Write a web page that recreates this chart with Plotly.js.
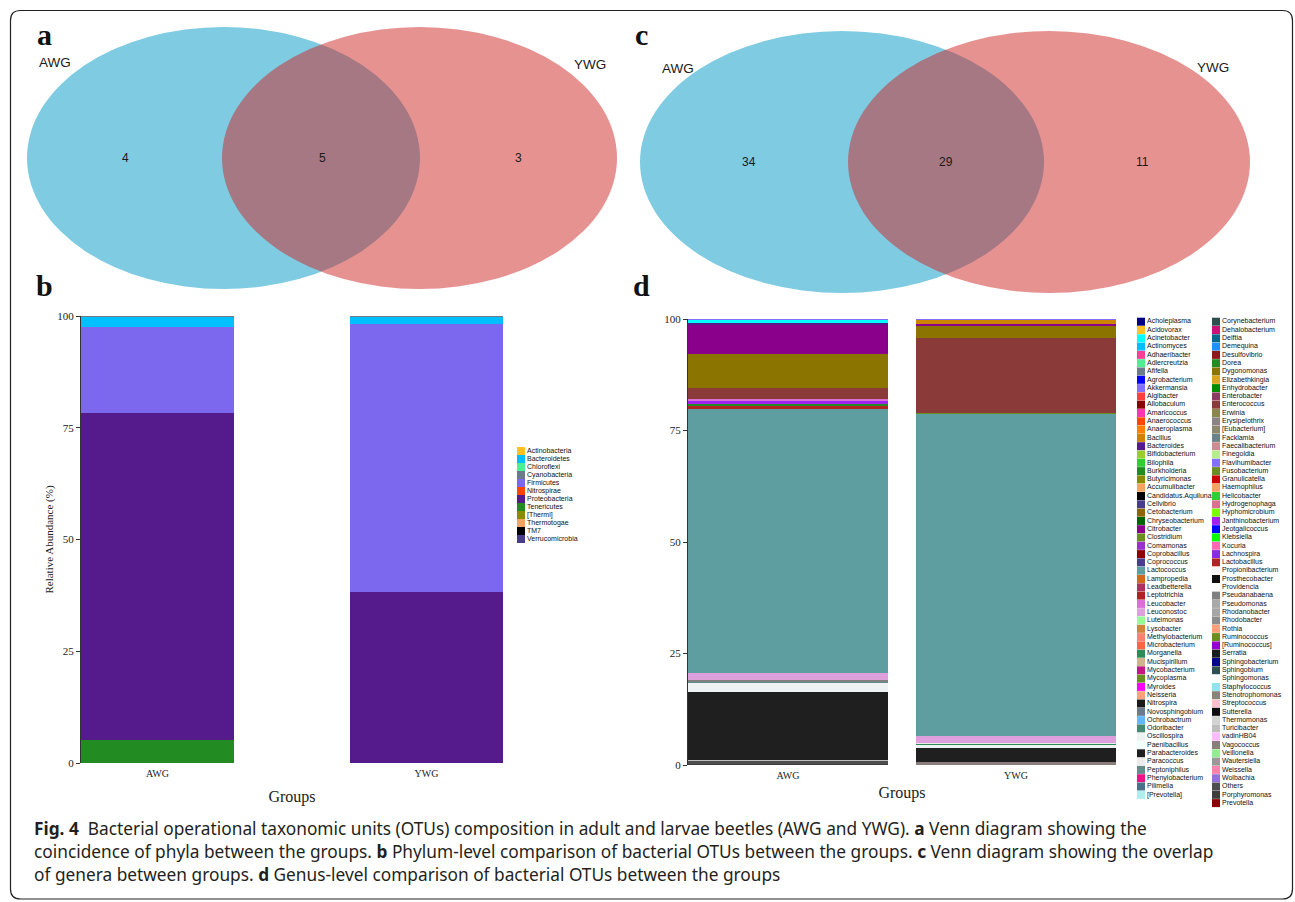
<!DOCTYPE html>
<html><head><meta charset="utf-8">
<script src="https://cdn.plot.ly/plotly-3.0.1.min.js"></script>
<style>html,body{margin:0;padding:0;background:#fff;overflow:hidden}#chart{width:1295px;height:902px}</style>
</head><body><div id="chart"></div>
<script>
// ================= DATA =================
const groups = ['AWG', 'YWG'];

// Venn counts: [AWG only, shared, YWG only]
const vennPhylum = [4, 5, 3];
const vennGenus = [34, 29, 11];

// Panel b: phylum legend (legend order) and colours
const phylumNames = ['Actinobacteria','Bacteroidetes','Chloroflexi','Cyanobacteria','Firmicutes','Nitrospirae','Proteobacteria','Tenericutes','[Thermi]','Thermotogae','TM7','Verrucomicrobia'];
const phylumColors = ['#FFC125','#00BFFF','#4EEE94','#6C7B8B','#7B68EE','#FF4500','#551A8B','#228B22','#8B8B00','#F4A460','#000000','#483D8B'];
// Stack order (top -> bottom) and relative abundance (%)
const phylumStack = ['Cyanobacteria','Bacteroidetes','Firmicutes','Proteobacteria','Tenericutes'];
const phylumAWG = [0.3, 2.2, 19.2, 73.24, 5.06];
const phylumYWG = [0.3, 1.5, 59.9, 38.3, 0];

// Panel d: genus legend (legend order) and colours
const genusNames = ['Acholeplasma','Acidovorax','Acinetobacter','Actinomyces','Adhaeribacter','Adlercreutzia','Afifella','Agrobacterium','Akkermansia','Algibacter','Allobaculum','Amaricoccus','Anaerococcus','Anaeroplasma','Bacillus','Bacteroides','Bifidobacterium','Bilophila','Burkholderia','Butyricimonas','Accumulibacter','Candidatus.Aquiluna','Cellvibrio','Cetobacterium','Chryseobacterium','Citrobacter','Clostridium','Comamonas','Coprobacillus','Coprococcus','Lactococcus','Lampropedia','Leadbetterella','Leptotrichia','Leucobacter','Leuconostoc','Luteimonas','Lysobacter','Methylobacterium','Microbacterium','Morganella','Mucispirillum','Mycobacterium','Mycoplasma','Myroides','Neisseria','Nitrospira','Novosphingobium','Ochrobactrum','Odoribacter','Oscillospira','Paenibacillus','Parabacteroides','Paracoccus','Peptoniphilus','Phenylobacterium','Pilimelia','[Prevotella]',
'Corynebacterium','Dehalobacterium','Delftia','Demequina','Desulfovibrio','Dorea','Dygonomonas','Elizabethkingia','Enhydrobacter','Enterobacter','Enterococcus','Erwinia','Erysipelothrix','[Eubacterium]','Facklamia','Faecalibacterium','Finegoldia','Flavihumibacter','Fusobacterium','Granulicatella','Haemophilus','Helicobacter','Hydrogenophaga','Hyphomicrobium','Janthinobacterium','Jeotgalicoccus','Klebsiella','Kocuria','Lachnospira','Lactobacillus','Propionibacterium','Prosthecobacter','Providencia','Pseudanabaena','Pseudomonas','Rhodanobacter','Rhodobacter','Rothia','Ruminococcus','[Ruminococcus]','Serratia','Sphingobacterium','Sphingobium','Sphingomonas','Staphylococcus','Stenotrophomonas','Streptococcus','Sutterella','Thermomonas','Turicibacter','vadinHB04','Vagococcus','Veillonella','Wautersiella','Weissella','Wolbachia','Others','Porphyromonas','Prevotella'];
const genusColors = ['#000080','#FFC125','#00FFFF','#00BFFF','#FF3E96','#4EEE94','#6C7B8B','#0000FF','#8470FF','#FF4040','#8B0000','#FF34B3','#FF4500','#FF7F00','#CD8500','#551A8B','#9ACD32','#32CD32','#228B22','#8B8B00','#F4A460','#000000','#483D8B','#8B6508','#006400','#8B008B','#6B8E23','#9932CC','#8B0000','#483D8B','#5F9EA0','#D2691E','#B03060','#B22222','#DA70D6','#DDA0DD','#98FB98','#CD853F','#FA8072','#FF6347','#2E8B57','#D2B48C','#C71585','#6B8E23','#FF00FF','#FFA07A','#1A1A1A','#6C7B8B','#63B8FF','#458B74','#EEF2F2','#F0FFFF','#1F1F1F','#EBEBEB','#668B8B','#EE1289','#4A708B','#AEEEEE',
'#2F4F4F','#CD1076','#00688B','#1E90FF','#8B1A1A','#228B22','#8B7500','#DAA520','#008B00','#8B3A62','#8B3A3A','#8B864E','#8B8386','#8B8970','#68838B','#CD8C95','#B4EE8C','#8470FF','#6B8E23','#CD0000','#F4A460','#32CD32','#DB7093','#7CFC00','#A020F0','#0000FF','#00FF00','#FF69B4','#8A2BE2','#B22222','#F5F5F5','#0F0F0F','#FFFFFF','#808080','#A9A9A9','#A6A6A6','#8C8C8C','#FFA07A','#6B8E23','#9400D3','#1A1A1A','#00008B','#2F4F4F','#FFFFFF','#8EE5EE','#8B8378','#FFC0CB','#0D0D0D','#D3D3D3','#BEBEBE','#FFBBFF','#8B7D7B','#90EE90','#999999','#FF82AB','#9370DB','#4D4D4D','#3D3D3D','#8B0000'];
// Stack order (top -> bottom) and relative abundance (%)
const genusStack = ['Akkermansia','Acinetobacter','Bacillus','Bacteroides','Citrobacter','Dygonomonas','Enterococcus','Leucobacter','Janthinobacterium','Fusobacterium','Dorea','Lactobacillus','Lactococcus','Leuconostoc','Paracoccus','Morganella','Pseudanabaena','Peptoniphilus','Oscillospira','Parabacteroides','Turicibacter','Others','Vagococcus','Porphyromonas'];
const genusAWG = [0.3, 0.67, 0, 0.45, 6.5, 7.6, 2.47, 0.5, 0.5, 0, 0.5, 0.74, 59.1, 1.64, 0, 0, 0.4, 0.35, 2.0, 15.2, 0.3, 0.5, 0, 0.3];
const genusYWG = [0.3, 0, 0.75, 0, 0.6, 2.7, 16.7, 0, 0, 0.2, 0, 0, 72.25, 1.5, 0.2, 0.37, 0, 0, 0.7, 3.0, 0, 0, 0.75, 0];

const yTicks = [0, 25, 50, 75, 100];

// ================= LAYOUT HELPERS =================
const W = 1295, H = 902;
const SERIF = "'Liberation Serif', 'Times New Roman', serif";
const SANS = "'Liberation Sans', Arial, sans-serif";
const CAP = "'Noto Sans', 'Open Sans', sans-serif";
const px = v => v / W;
const py = v => 1 - v / H;
const genusCol1Count = 58;

const traces = [];

// Panel b bars (first trace = bottom of stack)
for (let i = phylumStack.length - 1; i >= 0; i--) {
  const nm = phylumStack[i];
  traces.push({type: 'bar', name: nm, x: groups, y: [phylumAWG[i], phylumYWG[i]],
    xaxis: 'x', yaxis: 'y', width: 0.5688,
    marker: {color: phylumColors[phylumNames.indexOf(nm)], line: {width: 0}},
    showlegend: false, hoverinfo: 'skip'});
}
// Panel d bars
for (let i = genusStack.length - 1; i >= 0; i--) {
  const nm = genusStack[i];
  traces.push({type: 'bar', name: nm, x: groups, y: [genusAWG[i], genusYWG[i]],
    xaxis: 'x2', yaxis: 'y2', width: 0.877,
    marker: {color: genusColors[genusNames.indexOf(nm)], line: {width: 0}},
    showlegend: false, hoverinfo: 'skip'});
}
// Panel b legend
traces.push({type: 'scatter', mode: 'markers+text', xaxis: 'x3', yaxis: 'y3',
  x: phylumNames.map(() => 0), y: phylumNames.map((_, i) => i), text: phylumNames,
  textposition: 'middle right', cliponaxis: false,
  textfont: {family: SANS, size: 7, color: '#111'},
  marker: {symbol: 'square', size: 8, color: phylumColors, line: {width: 0}},
  showlegend: false, hoverinfo: 'skip'});
// Panel d legend (two columns)
traces.push({type: 'scatter', mode: 'markers+text', xaxis: 'x4', yaxis: 'y4',
  x: genusNames.map((_, i) => i < genusCol1Count ? 0 : 1),
  y: genusNames.map((_, i) => i < genusCol1Count ? i : i - genusCol1Count),
  text: genusNames, textposition: 'middle right', cliponaxis: false,
  textfont: {family: SANS, size: 7, color: '#111'},
  marker: {symbol: 'square', size: 8, color: genusColors, line: {width: 0}},
  showlegend: false, hoverinfo: 'skip'});
// overlay dummy trace to create pixel-space axes
traces.push({type: 'scatter', mode: 'none', x: [0], y: [0], xaxis: 'x5', yaxis: 'y5', showlegend: false, hoverinfo: 'skip'});

// Venn geometry (pixel space)
const venns = [
  {counts: vennPhylum, left: {cx: 223.5, cy: 158, rx: 196.5, ry: 131}, right: {cx: 419.5, cy: 158, rx: 197.5, ry: 131},
   labels: [[55, 62], [590, 64]], nums: [[125, 158], [322, 158], [518, 158]]},
  {counts: vennGenus, left: {cx: 842, cy: 162, rx: 202, ry: 131}, right: {cx: 1049, cy: 162, rx: 201, ry: 131},
   labels: [[678, 68], [1213, 67]], nums: [[749, 162], [946, 162], [1142, 162]]}
];

const shapes = [];
const annotations = [];
venns.forEach(v => {
  const L = v.left, R = v.right;
  shapes.push({type: 'circle', xref: 'x5', yref: 'y5', x0: L.cx - L.rx, x1: L.cx + L.rx, y0: L.cy - L.ry, y1: L.cy + L.ry,
    fillcolor: '#7ECBE2', line: {width: 0}, layer: 'below'});
  shapes.push({type: 'circle', xref: 'x5', yref: 'y5', x0: R.cx - R.rx, x1: R.cx + R.rx, y0: R.cy - R.ry, y1: R.cy + R.ry,
    fillcolor: 'rgba(204,42,40,0.51)', line: {width: 0}, layer: 'below'});
  groups.forEach((g, i) => annotations.push({xref: 'x5', yref: 'y5', x: v.labels[i][0], y: v.labels[i][1], text: g,
    showarrow: false, font: {family: SANS, size: 13.5, color: '#1a1a1a'}}));
  v.counts.forEach((c, i) => annotations.push({xref: 'x5', yref: 'y5', x: v.nums[i][0], y: v.nums[i][1], text: String(c),
    showarrow: false, font: {family: SANS, size: 12, color: '#1a1a1a'}}));
});

// Rounded frame
(function () {
  const x0 = 10.5, y0 = 10.5, x1 = 1292.5, y1 = 899, r = 10;
  shapes.push({type: 'path', xref: 'x5', yref: 'y5', layer: 'above', line: {color: '#222', width: 1.2},
    path: `M ${x0 + r},${y0} L ${x1 - r},${y0} Q ${x1},${y0} ${x1},${y0 + r} L ${x1},${y1 - r} Q ${x1},${y1} ${x1 - r},${y1} L ${x0 + r},${y1} Q ${x0},${y1} ${x0},${y1 - r} L ${x0},${y0 + r} Q ${x0},${y0} ${x0 + r},${y0} Z`});
})();

// Panel letters
[['a', 44, 34], ['b', 44, 285], ['c', 641, 34], ['d', 641, 285]].forEach(p => annotations.push({
  xref: 'x5', yref: 'y5', x: p[1], y: p[2], text: '<b>' + p[0] + '</b>', showarrow: false,
  font: {family: SERIF, size: 30, color: '#111'}}));

// Caption
const captionLines = [
  '<b>Fig. 4</b>  Bacterial operational taxonomic units (OTUs) composition in adult and larvae beetles (AWG and YWG). <b>a</b> Venn diagram showing the',
  'coincidence of phyla between the groups. <b>b</b> Phylum-level comparison of bacterial OTUs between the groups. <b>c</b> Venn diagram showing the overlap',
  'of genera between groups. <b>d</b> Genus-level comparison of bacterial OTUs between the groups'
];
captionLines.forEach((t, i) => annotations.push({xref: 'x5', yref: 'y5', x: 32, y: 828 + 23 * i, xanchor: 'left', yanchor: 'middle',
  text: t, showarrow: false, align: 'left', font: {family: CAP, size: 17.3, color: '#231F20'}}));

const yAxisBase = {range: [0, 100], tickvals: yTicks, ticks: 'outside', ticklen: 4, tickwidth: 1, tickcolor: '#333',
  showline: true, linecolor: '#333', linewidth: 1, showgrid: false, zeroline: false, fixedrange: true,
  tickfont: {family: SERIF, size: 11, color: '#222'}};
const xAxisBase = {type: 'category', showline: false, ticks: '', showgrid: false, zeroline: false, fixedrange: true,
  tickfont: {family: SERIF, size: 10, color: '#222'}};

const layout = {
  width: W, height: H, margin: {l: 0, r: 0, t: 0, b: 0}, paper_bgcolor: '#fff', plot_bgcolor: 'rgba(0,0,0,0)',
  barmode: 'stack', showlegend: false,
  xaxis: Object.assign({}, xAxisBase, {domain: [px(81), px(503)], range: [-0.2844, 1.2844], anchor: 'y',
    ticklabelstandoff: 3,
    title: {text: 'Groups', font: {family: SERIF, size: 16, color: '#222'}, standoff: 12}}),
  yaxis: Object.assign({}, yAxisBase, {domain: [py(763), py(316)], anchor: 'x',
    title: {text: 'Relative Abundance (%)', font: {family: SERIF, size: 11, color: '#222'}, standoff: 1}}),
  xaxis2: Object.assign({}, xAxisBase, {domain: [px(688), px(1116)], range: [-0.4386, 1.4386], anchor: 'y2',
    ticklabelstandoff: 3,
    title: {text: 'Groups', font: {family: SERIF, size: 16, color: '#222'}, standoff: 6}}),
  yaxis2: Object.assign({}, yAxisBase, {domain: [py(765), py(319)], anchor: 'x2'}),
  xaxis3: {domain: [px(510), px(610)], range: [-11, 89], visible: false, fixedrange: true, anchor: 'y3'},
  yaxis3: {domain: [py(549), py(441)], range: [12.25, -1.25], visible: false, fixedrange: true, anchor: 'x3'},
  xaxis4: {domain: [px(1128), 1], range: [-0.1733, 2.0533], visible: false, fixedrange: true, anchor: 'y4'},
  yaxis4: {domain: [py(812), py(312)], range: [59.07, -1.169], visible: false, fixedrange: true, anchor: 'x4'},
  xaxis5: {domain: [0, 1], range: [0, W], visible: false, fixedrange: true, anchor: 'y5'},
  yaxis5: {domain: [0, 1], range: [H, 0], visible: false, fixedrange: true, anchor: 'x5'},
  shapes: shapes, annotations: annotations
};

Plotly.newPlot('chart', traces, layout, {staticPlot: true, displayModeBar: false});
</script>
</body></html>
